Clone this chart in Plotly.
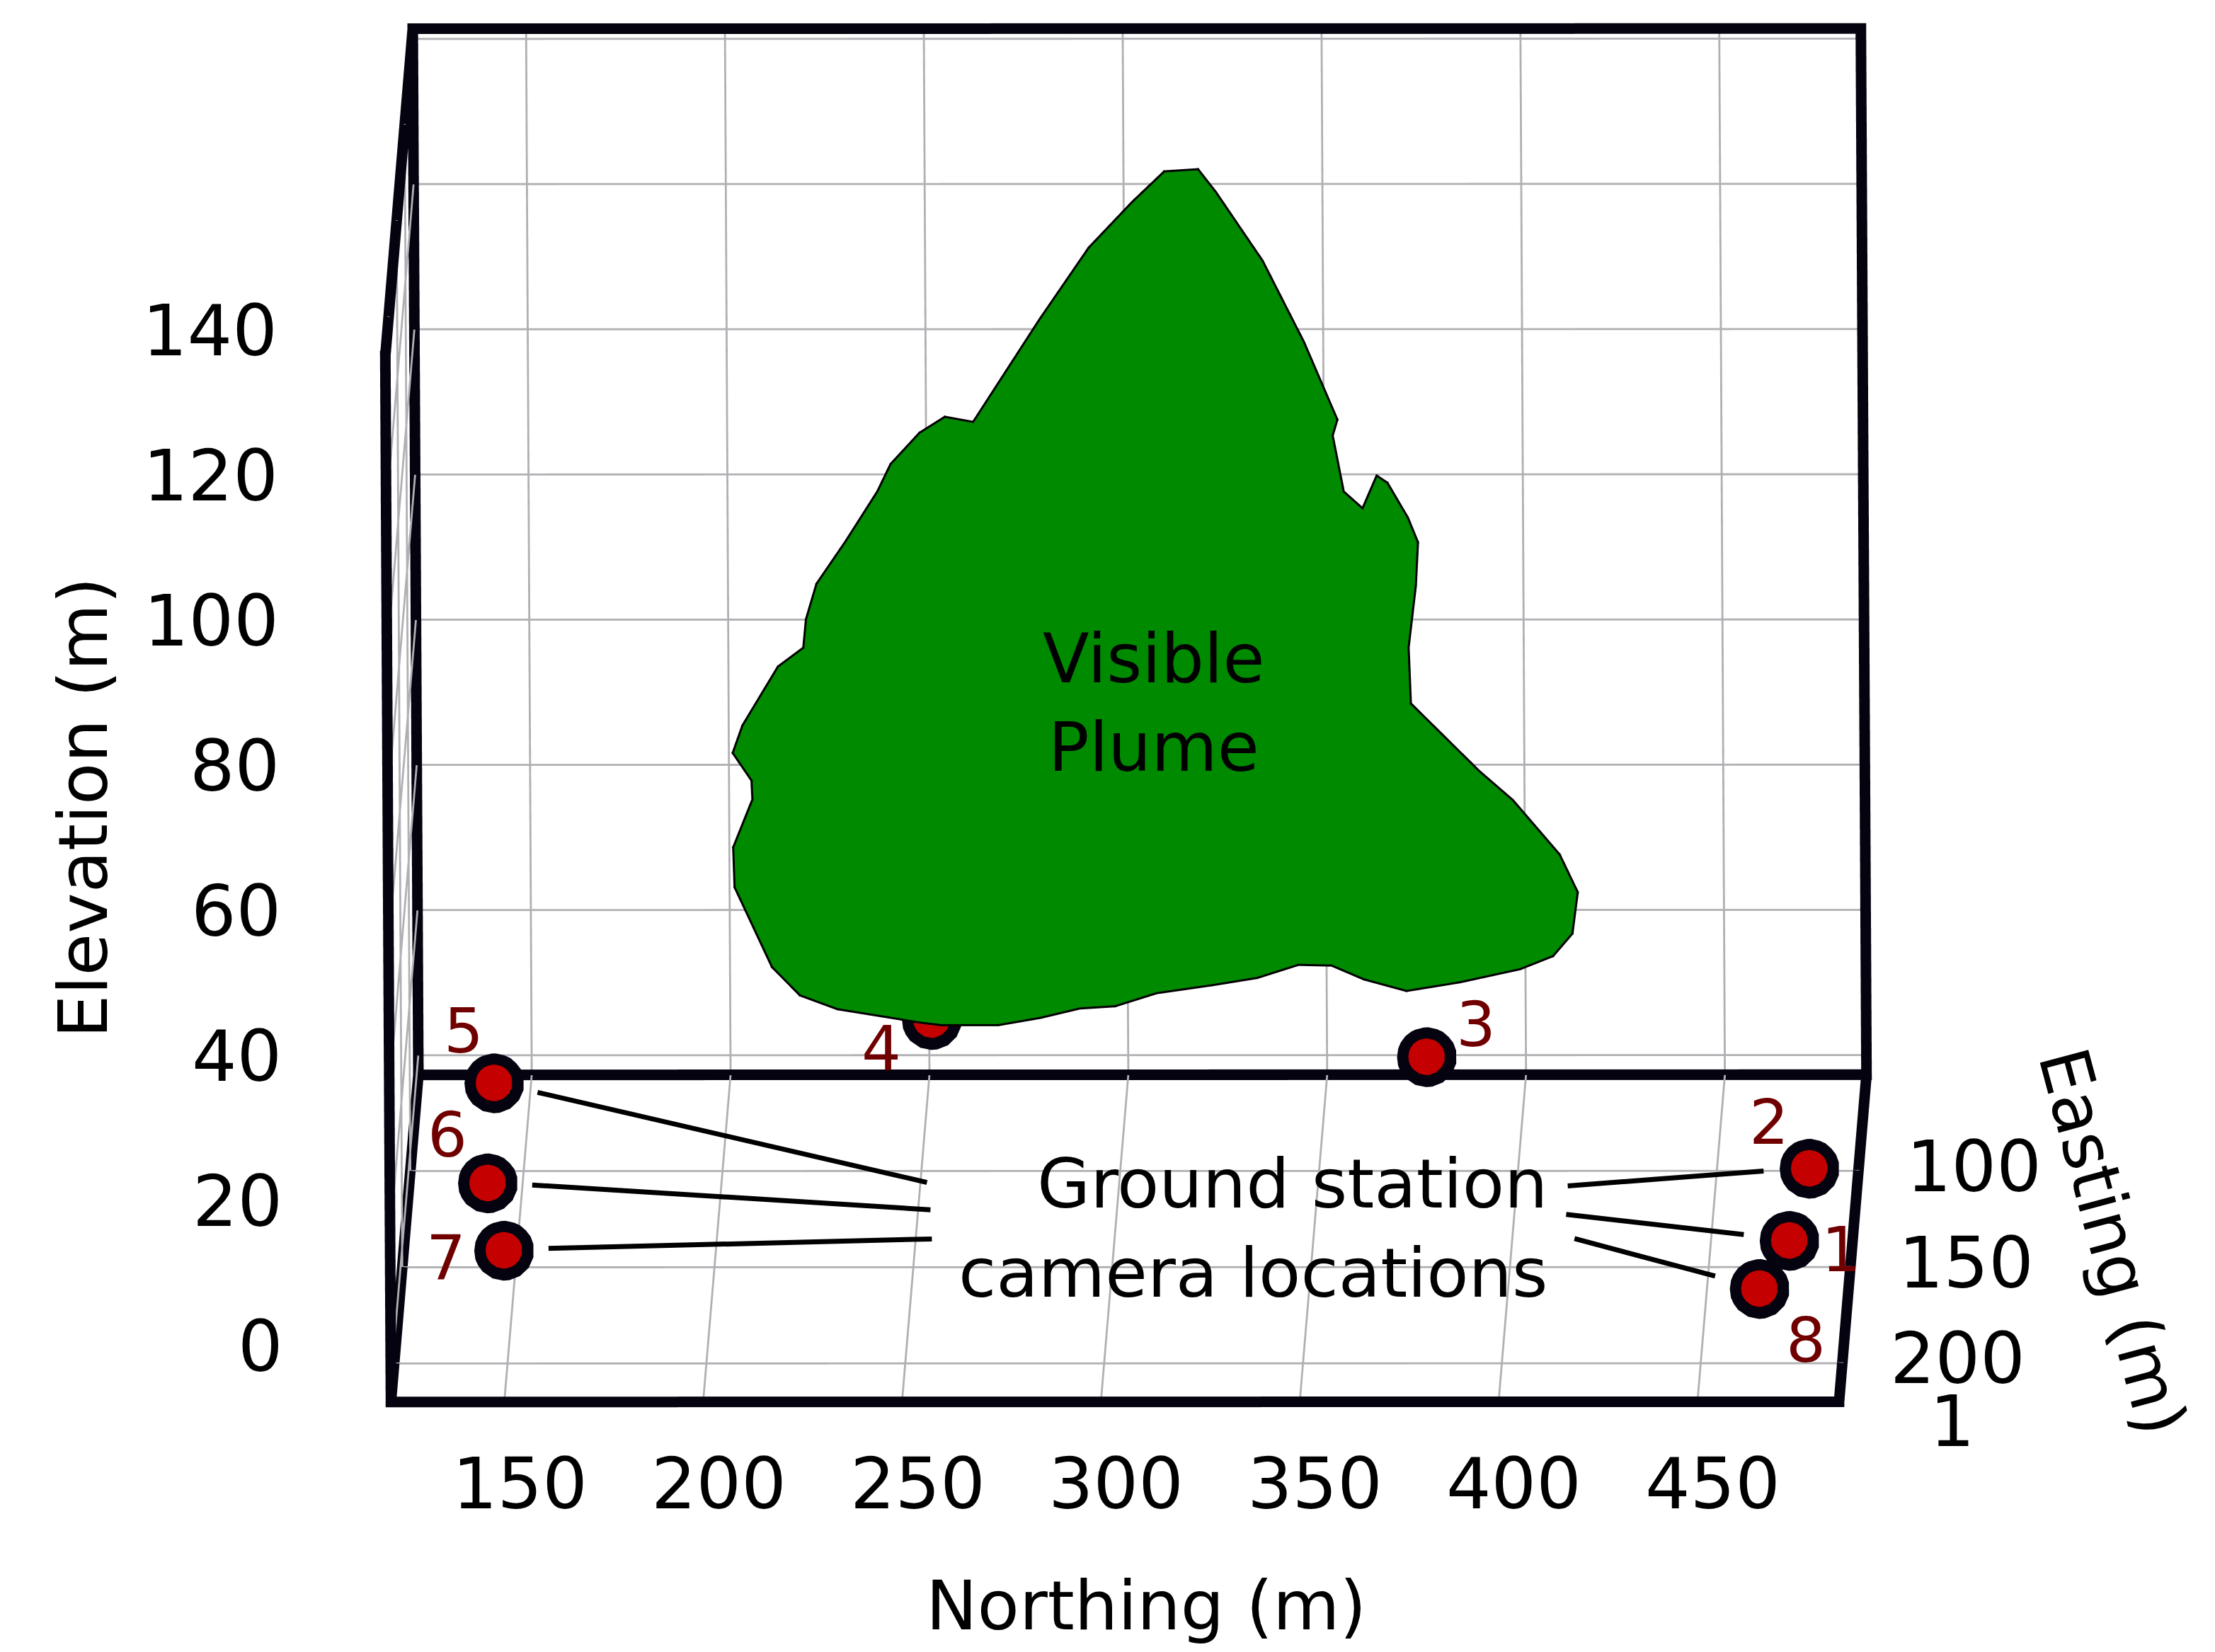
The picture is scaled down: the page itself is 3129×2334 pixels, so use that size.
import math
import plotly.graph_objects as go

# axis extents (m)
northing_range = [121.5, 485.6]
easting_range = [50, 220]
elevation_range = [-2.7, 141.4]

northing_ticks = [150, 200, 250, 300, 350, 400, 450]
easting_ticks = [100, 150, 200]
elevation_ticks = [0, 20, 40, 60, 80, 100, 120, 140]

# ground station cameras
cam_id = ['1', '2', '3', '4', '5', '6', '7', '8']
cam_northing = [470, 473.5, 375, 250.5, 141, 141.5, 147, 463.5]
cam_easting = [146, 108.5, 52, 50, 64, 116, 151, 171]
cam_elev = [0, 0, 0.4, 5, 0, 0, 0, 0]

# outline of the visible plume (vertical slice)
plume_easting = 51
plume_northing = [310.3, 318.8, 323.2, 334.9, 345.2, 353.5, 352.3, 355.0, 359.7, 363.3,
                  366.0, 371.1, 373.6, 373.0, 371.1, 371.6, 388.7, 397.1, 408.8, 413.3,
                  411.9, 407.0, 398.7, 383.6, 370.1, 359.4, 351.3, 343.0, 332.6, 321.3,
                  307.3, 296.8, 288.0, 278.0, 267.4, 253.1, 247.2, 240.6, 227.0, 217.6,
                  210.6, 201.3, 201.0, 205.9, 205.7, 201.0, 203.5, 212.5, 218.9, 219.6,
                  222.3, 229.6, 237.7, 241.1, 248.4, 254.8, 261.9, 278.7, 291.2, 302.2]
plume_elev = [122.0, 122.3, 119.2, 109.7, 98.5, 87.8, 85.6, 77.9, 75.6, 80.1,
              79.1, 74.3, 70.9, 64.9, 56.4, 48.7, 39.4, 35.4, 27.9, 22.7,
              17.0, 13.9, 12.1, 10.3, 9.1, 10.7, 12.6, 12.7, 10.9, 9.9,
              8.8, 7.0, 6.7, 5.4, 4.4, 4.4, 4.8, 5.4, 6.6, 8.5,
              12.4, 23.4, 28.9, 35.5, 38.1, 41.9, 45.7, 53.8, 56.4, 60.3,
              65.2, 71.0, 77.9, 81.7, 86.0, 88.2, 87.5, 101.6, 111.5, 117.8]
plume_label_pos = (307, 48.7)

FONT = 'DejaVu Sans'
EDGE = '#04030f'
GRID = '#b0b0b4'
LABEL_RED = '#700000'
FLAT = dict(ambient=1.0, diffuse=0.0, specular=0.0, roughness=1.0, fresnel=0.0)
W, H = 3129, 2334

# scene geometry (y axis is -easting so easting grows toward the viewer)
x0, x1 = northing_range
yb, yf = -easting_range[0], -easting_range[1]
z0, z1 = elevation_range
spans = [(x0, x1), (yf, yb), (z0, z1)]

dom_x, dom_y = [0.0114, 1.0], [0.141, 1.0]
px_per_unit = H * (dom_y[1] - dom_y[0]) / 2      # orthographic scale of the scene
phi = math.radians(14)                           # camera elevation
box_w, box_h, box_d, box_skew = 2046, 1478, 462, 40   # projected box size in px
aspect = [box_w / px_per_unit,
          box_d / (px_per_unit * math.sin(phi)),
          box_h / (px_per_unit * math.cos(phi))]
az = math.asin(box_skew / (px_per_unit * aspect[1] * math.cos(phi)))
view = [math.sin(az) * math.cos(phi), -math.cos(az) * math.cos(phi), math.sin(phi)]
EYE_DIST = 4.0                                   # keep the camera outside the box
PAD = 0.05                                       # keeps ribbons inside the clip box


def to_norm(p):
    return [(p[i] - sum(spans[i]) / 2) / (spans[i][1] - spans[i][0]) * aspect[i] for i in range(3)]


def from_norm(q):
    return [q[i] / aspect[i] * (spans[i][1] - spans[i][0]) + sum(spans[i]) / 2 for i in range(3)]


def toward_eye(p, d):
    q = to_norm(p)
    return from_norm([q[i] + d * view[i] for i in range(3)])


def ribbons(segs, width_px, color, lift=0.0):
    """Thick 3D line segments drawn as flat ribbons facing the camera."""
    h = width_px / 2 / px_per_unit
    xs, ys, zs, ii, jj, kk = [], [], [], [], [], []
    for p, q in segs:
        a, b = to_norm(p), to_norm(q)
        e = [b[i] - a[i] for i in range(3)]
        n = math.sqrt(sum(c * c for c in e))
        e = [c / n for c in e]
        o = [e[1] * view[2] - e[2] * view[1], e[2] * view[0] - e[0] * view[2],
             e[0] * view[1] - e[1] * view[0]]
        m = math.sqrt(sum(c * c for c in o))
        o = [c / m for c in o]
        base = len(xs)
        for end, sgn in ((a, -1), (b, 1)):
            for side in (1, -1):
                v = [end[i] + sgn * h * e[i] + side * h * o[i] + lift * view[i] for i in range(3)]
                v = from_norm(v)
                xs.append(v[0]); ys.append(v[1]); zs.append(v[2])
        ii += [base, base + 1]
        jj += [base + 1, base + 3]
        kk += [base + 2, base + 2]
    return go.Mesh3d(x=xs, y=ys, z=zs, i=ii, j=jj, k=kk, color=color, flatshading=True,
                     hoverinfo='skip', lighting=FLAT)


def ear_clip(xs, ys):
    """Triangulate a simple polygon, returns index triples."""
    n = len(xs)
    idx = list(range(n))
    area = sum(xs[i] * ys[(i + 1) % n] - xs[(i + 1) % n] * ys[i] for i in range(n))
    if area < 0:
        idx.reverse()

    def cross(a, b, c):
        return (xs[b] - xs[a]) * (ys[c] - ys[a]) - (ys[b] - ys[a]) * (xs[c] - xs[a])

    def inside(p, a, b, c):
        return cross(a, b, p) >= 0 and cross(b, c, p) >= 0 and cross(c, a, p) >= 0

    tris = []
    while len(idx) > 3:
        for m in range(len(idx)):
            a, b, c = idx[m - 1], idx[m], idx[(m + 1) % len(idx)]
            if cross(a, b, c) <= 0:
                continue
            if any(inside(p, a, b, c) for p in idx if p not in (a, b, c)):
                continue
            tris.append((a, b, c))
            idx.pop(m)
            break
        else:
            break
    tris.append(tuple(idx[:3]))
    return tris


fig = go.Figure()

# grid on the three back panes
grid = []
for n in northing_ticks:
    grid += [((n, yf, z0), (n, yb, z0)), ((n, yb, z0), (n, yb, z1))]
for e in easting_ticks:
    grid += [((x0, -e, z0), (x1, -e, z0)), ((x0, -e, z0), (x0, -e, z1))]
for z in elevation_ticks:
    grid += [((x0, yb, z), (x1, yb, z)), ((x0, yf, z), (x0, yb, z))]
fig.add_trace(ribbons(grid, 2.8, GRID))

# plume fill + outline
tris = ear_clip(plume_northing, plume_elev)
fig.add_trace(go.Mesh3d(
    x=plume_northing, y=[-plume_easting] * len(plume_northing), z=plume_elev,
    i=[t[0] for t in tris], j=[t[1] for t in tris], k=[t[2] for t in tris],
    color='#008a00', opacity=1, flatshading=True, hoverinfo='skip', lighting=FLAT))
pts = [(n, -plume_easting, z) for n, z in zip(plume_northing, plume_elev)]
fig.add_trace(ribbons([(pts[i], pts[(i + 1) % len(pts)]) for i in range(len(pts))],
                      3, 'black', lift=0.003))

# box edges
ftl, btl, btr = (x0, yf, z1), (x0, yb, z1), (x1, yb, z1)
fbl, fbr, bbl, bbr = (x0, yf, z0), (x1, yf, z0), (x0, yb, z0), (x1, yb, z0)
edges = [(ftl, btl), (btl, btr), (btr, bbr), (bbr, fbr), (fbr, fbl), (fbl, ftl),
         (btl, bbl), (bbl, bbr), (bbl, fbl)]
fig.add_trace(ribbons(edges, 15, EDGE, lift=0.002))

# cameras: dark ring with a red disc, lifted toward the viewer just enough to clear the floor
ring_px = 78
cam_pts = [(n, -e, z) for n, e, z in zip(cam_northing, cam_easting, cam_elev)]
ring, disc = [], []
for p in cam_pts:
    h = (p[2] - z0) / (z1 - z0) * aspect[2] * math.cos(phi)
    d = max(0.0, (ring_px / 2 / px_per_unit - h) / math.tan(phi)) + 0.004
    ring.append(toward_eye(p, d))
    disc.append(toward_eye(p, d + 0.004))
fig.add_trace(go.Scatter3d(
    x=[p[0] for p in ring], y=[p[1] for p in ring], z=[p[2] for p in ring],
    mode='markers', marker=dict(size=49, color=EDGE, line=dict(width=0)), hoverinfo='skip'))
fig.add_trace(go.Scatter3d(
    x=[p[0] for p in disc], y=[p[1] for p in disc], z=[p[2] for p in disc],
    mode='markers', marker=dict(size=30, color='#c40000', line=dict(width=0)), hoverinfo='skip'))

ann = []
# camera number labels (offsets in px)
num_offsets = {'1': (74, -14), '2': (-56, 64), '3': (70, 44), '4': (-70, -42),
               '5': (-42, 72), '6': (-56, 67), '7': (-81, -12), '8': (66, -74)}
for cid, p in zip(cam_id, cam_pts):
    dx, dy = num_offsets[cid]
    ann.append(dict(x=p[0], y=p[1], z=p[2], text=cid, showarrow=False, xshift=dx, yshift=dy,
                    font=dict(family=FONT, size=88, color=LABEL_RED)))

# leader lines from the caption to the ground stations
leader = {'5': (614, 142), '6': (628, 39), '7': (607, -15),
          '2': (-342, 26), '1': (-316, -36), '8': (-262, -70)}
for cid, p in zip(cam_id, cam_pts):
    if cid not in leader:
        continue
    ax, ay = leader[cid]
    ann.append(dict(x=p[0], y=p[1], z=p[2], text=' ', showarrow=True, arrowhead=0,
                    ax=ax, ay=ay, arrowwidth=7, arrowcolor='black', standoff=64,
                    font=dict(size=1)))

# tick labels
tick_font = dict(family=FONT, size=100, color='black')
for v in elevation_ticks:
    ann.append(dict(x=x0, y=yf, z=v, text=str(v), showarrow=False, xanchor='right',
                    xshift=-150, yshift=50, font=tick_font))
for v in northing_ticks:
    ann.append(dict(x=v, y=yf, z=z0, text=str(v), showarrow=False, yshift=-116, xshift=22,
                    font=tick_font))
for v in easting_ticks:
    ann.append(dict(x=x1, y=-v, z=z0, text=str(v), showarrow=False, xanchor='left',
                    xshift=66, yshift=6, font=tick_font))
ann.append(dict(x=x1, y=yf, z=z0, text='1', showarrow=False, xanchor='left',
                xshift=126, yshift=-28, font=tick_font))

ann.append(dict(x=plume_label_pos[0], y=-plume_easting, z=plume_label_pos[1],
                text='Visible<br>Plume', showarrow=False,
                font=dict(family=FONT, size=96, color='black')))

axis_common = dict(showticklabels=False, title=dict(text=''), showbackground=False,
                   showgrid=False, zeroline=False, showline=False, showspikes=False,
                   ticks='')


def padded(lo, hi):
    return [lo - PAD * (hi - lo), hi + PAD * (hi - lo)]


roll = math.sin(az) * math.sin(phi)
title_font = dict(family=FONT, size=97, color='black')
fig.update_layout(
    width=W, height=H, margin=dict(l=0, r=0, t=0, b=0),
    paper_bgcolor='white', showlegend=False,
    font=dict(family=FONT),
    scene=dict(
        domain=dict(x=dom_x, y=dom_y),
        xaxis=dict(range=padded(x0, x1), **axis_common),
        yaxis=dict(range=padded(yf, yb), **axis_common),
        zaxis=dict(range=padded(z0, z1), **axis_common),
        aspectmode='manual',
        aspectratio=dict(x=aspect[0] * (1 + 2 * PAD), y=aspect[1] * (1 + 2 * PAD),
                         z=aspect[2] * (1 + 2 * PAD)),
        camera=dict(eye=dict(x=EYE_DIST * view[0], y=EYE_DIST * view[1], z=EYE_DIST * view[2]),
                    up=dict(x=roll, y=0, z=1), center=dict(x=0, y=0, z=0),
                    projection=dict(type='orthographic')),
        dragmode=False,
        annotations=ann,
    ),
    annotations=[
        dict(x=0.697, y=0.26, xref='paper', yref='paper', xanchor='right', yanchor='middle',
             align='right', text='Ground station<br>camera locations', showarrow=False,
             font=title_font),
        dict(x=0.515, y=0.0316, xref='paper', yref='paper', xanchor='center',
             yanchor='middle', text='Northing (m)', showarrow=False, font=title_font),
        dict(x=0.035, y=0.5145, xref='paper', yref='paper', xanchor='center',
             yanchor='middle', text='Elevation (m)', textangle=-90, showarrow=False,
             font=title_font),
        dict(x=0.951, y=0.252, xref='paper', yref='paper', xanchor='center',
             yanchor='middle', text='Easting (m)', textangle=75, showarrow=False,
             font=title_font),
    ],
)

fig.write_html('out.html')
